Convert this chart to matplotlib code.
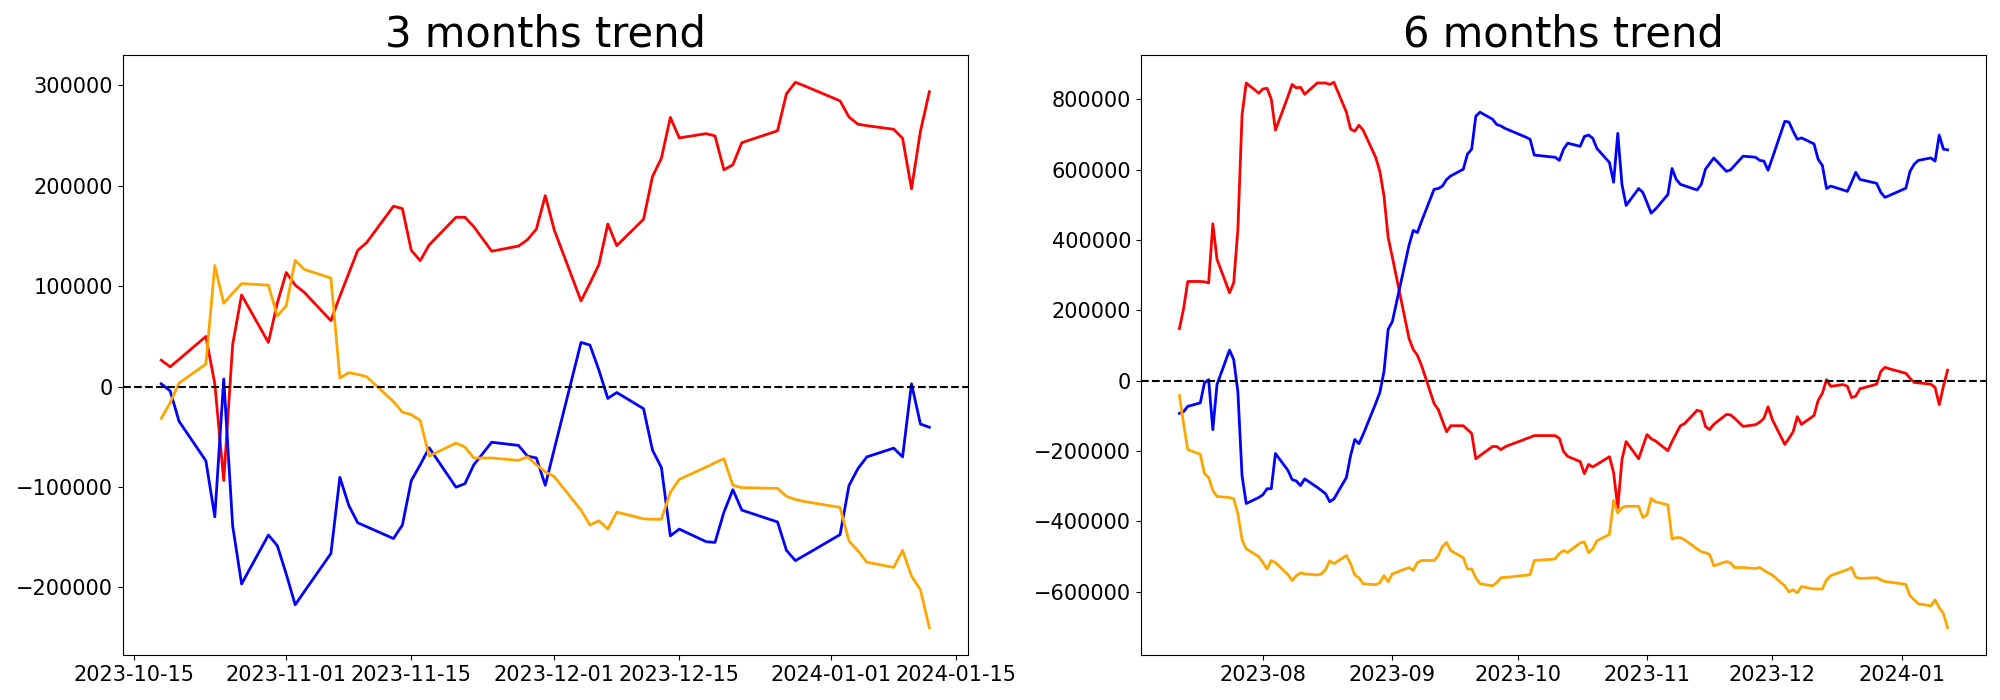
import numpy as np
import pandas as pd
import matplotlib
matplotlib.use('Agg')
import matplotlib.pyplot as plt

# trading days (US holidays skipped)
holidays = ['2023-09-04', '2023-11-23', '2023-12-25', '2024-01-01']
dates_3m = pd.bdate_range('2023-10-18', '2024-01-12', freq='C', holidays=holidays)
dates_6m = pd.bdate_range('2023-07-12', '2024-01-12', freq='C', holidays=holidays)

# values in thousands
red_3m = [26.3, 19.7, 27.1, 49.9, 2.8, -93.5, 42.0, 91.2, 44.0, 83.3,
          113.6, 101.0, 94.0, 65.6, 90.0, 112.8, 135.6, 143.4, 179.6, 177.2,
          135.6, 125.4, 141.1, 168.6, 168.6, 159.2, 134.8, 139.9, 146.2, 156.8, 190.2,
          156.0, 85.3, 103.0, 121.4, 161.9, 140.3, 166.6, 209.1, 227.5, 268.0,
          247.6, 251.9, 249.6, 215.8, 220.9, 242.9, 254.7, 291.6, 303.0, 299.5,
          284.5, 268.4, 261.3, 259.8, 256.2, 247.2, 196.9, 254.3, 293.6]
blue_3m = [2.8, -4.3, -34.6, -73.9, -129.7, 7.5, -138.7, -196.5, -147.8, -158.4,
           -186.7, -217.3, -204.4, -166.2, -90.4, -118.3, -135.6, -139.5, -151.3, -137.9,
           -93.5, -77.8, -60.9, -100.2, -96.7, -77.8, -55.4, -58.6, -69.2, -71.1, -98.3,
           -62.5, 44.0, 41.3, 16.5, -11.8, -5.9, -22.0, -63.3, -80.6, -148.6,
           -141.9, -154.4, -155.2, -125.0, -102.6, -123.0, -134.8, -163.1, -173.3, -168.2,
           -147.4, -98.6, -81.7, -70.0, -61.3, -70.0, 2.8, -37.3, -40.5]
orange_3m = [-31.8, -16.1, 3.5, 22.4, 120.7, 82.9, 93.1, 102.6, 101.0, 70.3,
             80.6, 125.8, 116.7, 108.1, 8.6, 13.8, 12.2, 9.8, -14.9, -25.5,
             -27.9, -33.8, -69.2, -56.2, -60.1, -71.1, -71.1, -73.5, -70.0, -77.8, -84.9,
             -89.6, -123.0, -137.9, -133.6, -141.9, -125.0, -131.7, -132.1, -132.1, -105.3,
             -92.4, -80.2, -75.8, -71.9, -98.3, -100.6, -101.4, -109.3, -112.4, -114.4,
             -120.3, -153.7, -163.5, -174.9, -180.0, -163.1, -188.6, -202.4, -240.1]

red_6m = [148, 205, 282, 282, 281, 278, 446, 345, 250, 278, 430, 755, 846, 817,
          829, 831, 800, 712, 808, 842, 832, 834, 814, 846, 846, 846, 842, 848,
          763, 715, 709, 726, 712, 635, 595, 525, 407,
          351, 120, 89, 72, 43, -65, -82, -114, -145, -128, -128, -139, -150, -222,
          -213, -187, -187, -196, -188, -183,
          -170, -165, -161, -156, -156, -156, -156, -164, -201, -215, -230, -264, -238,
          -245, -238, -216, -261, -361, -224, -173, -222, -187,
          -153, -165, -171, -199, -173, -150, -128, -122, -84, -88, -130, -139, -124,
          -96, -97, -107, -130, -125, -118, -107, -74,
          -110, -181, -164, -145, -102, -124, -99, -56, -36, 3, -16, -11, -16, -48,
          -44, -23, -10, 26, 38, 34,
          21, 7, -5, -6, -10, -19, -68, -16, 30]
blue_6m = [-93, -88, -73, -63, -6, 3, -139, -11, 87, 60, -31, -270, -349, -332,
           -324, -307, -307, -207, -255, -281, -285, -298, -279, -303, -312, -321, -344, -336,
           -275, -213, -167, -179, -153, -65, -34, 26, 146,
           168, 385, 427, 421, 453, 544, 546, 553, 572, 582, 601, 644, 658, 752,
           763, 743, 728, 724, 717, 712,
           697, 692, 686, 641, 640, 636, 635, 626, 658, 675, 666, 694, 698,
           689, 660, 620, 564, 703, 558, 498, 546, 535,
           506, 476, 487, 529, 603, 572, 558, 554, 542, 558, 601, 617, 633,
           595, 599, 612, 638, 635, 626, 624, 598,
           632, 737, 735, 709, 686, 690, 673, 629, 612, 546, 553, 542, 538, 564,
           592, 572, 561, 535, 521, 526,
           547, 595, 615, 626, 633, 624, 698, 658, 656]
orange_6m = [-42, -122, -196, -209, -264, -275, -312, -329, -332, -336, -378, -452, -478, -500,
             -517, -535, -511, -517, -551, -568, -554, -546, -549, -552, -549, -537, -512, -520,
             -497, -520, -552, -560, -577, -580, -574, -554, -571,
             -549, -531, -539, -517, -511, -511, -497, -471, -460, -483, -503, -535, -535, -560,
             -577, -583, -574, -560, -559, -558,
             -554, -553, -551, -511, -510, -508, -506, -491, -483, -488, -461, -458, -489,
             -478, -455, -437, -341, -376, -361, -357, -357, -389,
             -381, -335, -344, -353, -450, -446, -446, -452, -478, -486, -489, -494, -526,
             -514, -518, -531, -531, -534, -531, -539, -546,
             -552, -583, -600, -594, -603, -585, -592, -592, -592, -566, -554, -541, -537, -531,
             -558, -562, -560, -566, -571, -572,
             -579, -611, -623, -634, -640, -623, -645, -662, -702]

panels = [
    ('3 months trend', dates_3m, red_3m, blue_3m, orange_3m),
    ('6 months trend', dates_6m, red_6m, blue_6m, orange_6m),
]

fig, axes = plt.subplots(1, 2, figsize=(20, 7), dpi=100)
fig.subplots_adjust(left=0.0614, right=0.993, bottom=0.0643, top=0.9214, wspace=0.205)

for ax, (title, dates, red, blue, orange) in zip(axes, panels):
    ax.plot(dates, np.array(red) * 1000, color='red', linewidth=2)
    ax.plot(dates, np.array(blue) * 1000, color='blue', linewidth=2)
    ax.plot(dates, np.array(orange) * 1000, color='orange', linewidth=2)
    ax.axhline(0, color='black', linestyle='--', linewidth=1.5)
    ax.set_title(title, fontsize=30)
    ax.tick_params(axis='both', labelsize=15)

plt.savefig('out.png', dpi=100)
plt.close()
